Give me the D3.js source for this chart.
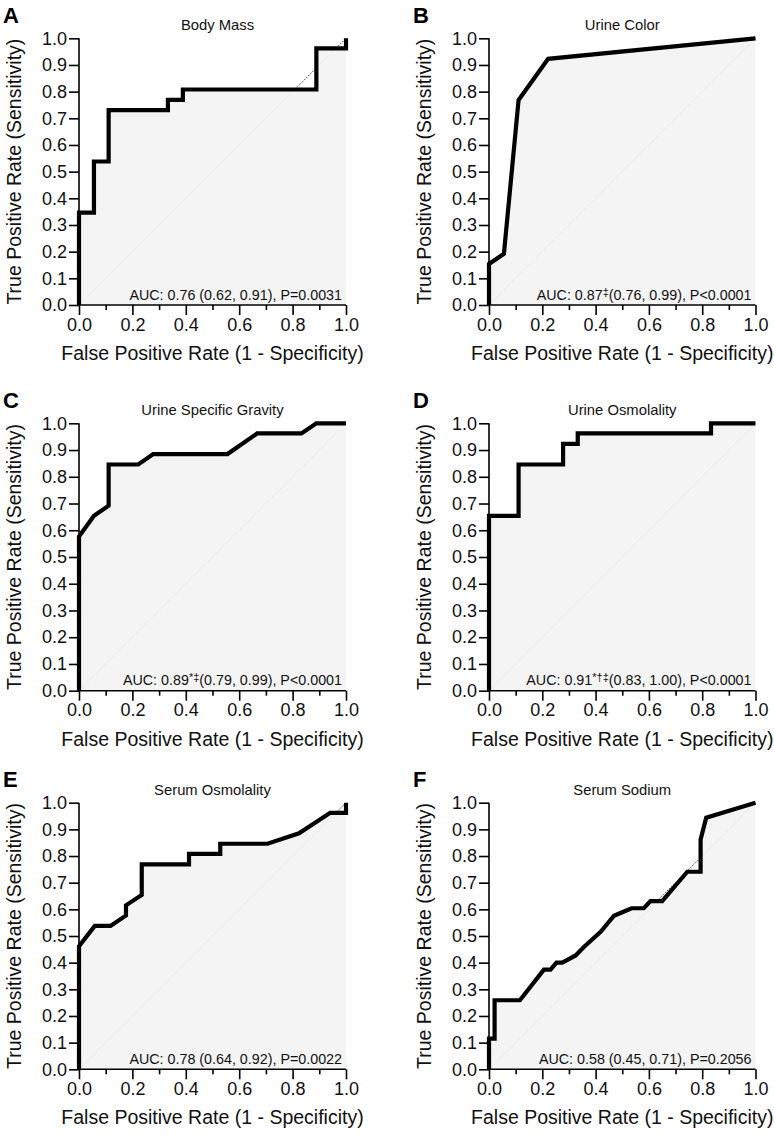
<!DOCTYPE html>
<html><head><meta charset="utf-8">
<script src="https://cdn.jsdelivr.net/npm/d3@7"></script>
<style>
body{margin:0;background:#fff;}
svg{display:block;font-family:"Liberation Sans",Arial,Helvetica,sans-serif;}
</style>
</head><body>
<svg id="chart" width="774" height="1134"></svg>
<script>
// ---------- data ----------
const panelLetters = ["A", "B", "C", "D", "E", "F"];
const panelTitles = ["Body Mass", "Urine Color", "Urine Specific Gravity", "Urine Osmolality", "Serum Osmolality", "Serum Sodium"];
const aucValues = ["0.76", "0.87", "0.89", "0.91", "0.78", "0.58"];
const aucMarks = ["", "\u2021", "*\u2021", "*\u2020\u2021", "", ""];
const aucCIs = ["(0.62, 0.91)", "(0.76, 0.99)", "(0.79, 0.99)", "(0.83, 1.00)", "(0.64, 0.92)", "(0.45, 0.71)"];
const pValues = ["P=0.0031", "P<0.0001", "P<0.0001", "P<0.0001", "P=0.0022", "P=0.2056"];

const xTickValues = [0, 0.1, 0.2, 0.3, 0.4, 0.5, 0.6, 0.7, 0.8, 0.9, 1.0];
const yTickValues = [0, 0.1, 0.2, 0.3, 0.4, 0.5, 0.6, 0.7, 0.8, 0.9, 1.0];
const xAxisTitle = "False Positive Rate (1 - Specificity)";
const yAxisTitle = "True Positive Rate (Sensitivity)";

// ROC curves: [false positive rate, true positive rate]
const rocBodyMass = [[0,0],[0,0.346],[0.056,0.346],[0.056,0.538],[0.111,0.538],[0.111,0.731],[0.333,0.731],[0.333,0.769],[0.389,0.769],[0.389,0.808],[0.889,0.808],[0.889,0.962],[1,0.962],[1,1]];
const rocUrineColor = [[0,0],[0,0.154],[0.056,0.192],[0.111,0.769],[0.222,0.923],[1,1]];
const rocUrineSG = [[0,0],[0,0.577],[0.056,0.654],[0.111,0.692],[0.111,0.846],[0.222,0.846],[0.278,0.885],[0.556,0.885],[0.667,0.962],[0.833,0.962],[0.889,1],[1,1]];
const rocUrineOsm = [[0,0],[0,0.654],[0.111,0.654],[0.111,0.846],[0.278,0.846],[0.278,0.923],[0.333,0.923],[0.333,0.962],[0.833,0.962],[0.833,1],[1,1]];
const rocSerumOsm = [[0,0],[0,0.462],[0.059,0.538],[0.118,0.538],[0.176,0.577],[0.176,0.615],[0.235,0.654],[0.235,0.769],[0.412,0.769],[0.412,0.808],[0.529,0.808],[0.529,0.846],[0.706,0.846],[0.824,0.885],[0.941,0.962],[1,0.962],[1,1]];
const rocSerumNa = [[0,0],[0,0.115],[0.021,0.115],[0.021,0.259],[0.116,0.259],[0.206,0.374],[0.231,0.374],[0.253,0.4],[0.275,0.4],[0.325,0.427],[0.355,0.458],[0.419,0.516],[0.469,0.576],[0.5,0.589],[0.535,0.604],[0.581,0.604],[0.606,0.631],[0.65,0.631],[0.744,0.741],[0.794,0.741],[0.794,0.862],[0.815,0.944],[1,1]];
const rocCurves = [rocBodyMass, rocUrineColor, rocUrineSG, rocUrineOsm, rocSerumOsm, rocSerumNa];

// ---------- layout ----------
const colLeft = [79, 489];
const colRight = [346, 755.5];
const rowTop = [38.3, 423.3, 802.7];
const rowBottom = [305, 690.7, 1069.3];
const FONT = '"Liberation Sans",Arial,Helvetica,sans-serif';

const svg = d3.select("#chart");
const fmt = d3.format(".1f");

rocCurves.forEach((data, i) => {
  const col = i % 2, row = Math.floor(i / 2);
  const L = colLeft[col], R = colRight[col], T = rowTop[row], B = rowBottom[row];
  const x = d3.scaleLinear().domain([0, 1]).range([L, R]);
  const y = d3.scaleLinear().domain([0, 1]).range([B, T]);
  const g = svg.append("g");

  // diagonal reference
  g.append("line")
    .attr("x1", x(0)).attr("y1", y(0)).attr("x2", x(1)).attr("y2", y(1))
    .attr("stroke", "#222").attr("stroke-width", 1).attr("stroke-dasharray", "1.5,1.5");

  // area under curve
  const area = d3.area().x(d => x(d[0])).y0(y(0)).y1(d => y(d[1]));
  g.append("path").datum(data).attr("d", area)
    .attr("fill", "#f3f3f3").attr("fill-opacity", 0.93);

  // axes
  const xAxis = d3.axisBottom(x).tickValues(xTickValues)
    .tickSize(10).tickPadding(3)
    .tickFormat(d => (Math.round(d * 10) % 2 === 0) ? fmt(d) : "");
  const gx = g.append("g").attr("transform", `translate(0,${B})`).call(xAxis);
  gx.selectAll(".tick line").attr("y2", d => (Math.round(d * 10) % 2 === 0) ? 10 : 5);

  const yAxis = d3.axisLeft(y).tickValues(yTickValues)
    .tickSize(10).tickPadding(2).tickFormat(fmt);
  const gy = g.append("g").attr("transform", `translate(${L},0)`).call(yAxis);

  [gx, gy].forEach(a => {
    a.select(".domain").attr("stroke", "#000").attr("stroke-width", 1.6);
    a.selectAll(".tick line").attr("stroke", "#000").attr("stroke-width", 1.6);
    a.selectAll(".tick text").attr("fill", "#111").style("font-size", "18px").style("font-family", FONT);
  });
  gx.select(".domain").attr("d", `M${L},0H${R}`);
  gy.select(".domain").attr("d", `M0,${B}V${T}`);

  // ROC curve
  const line = d3.line().x(d => x(d[0])).y(d => y(d[1]));
  g.append("path").datum(data).attr("d", line)
    .attr("fill", "none").attr("stroke", "#000").attr("stroke-width", 4.2)
    .attr("stroke-linejoin", "miter").attr("stroke-miterlimit", 4);

  // AUC text
  const t = g.append("text").attr("x", R - 4).attr("y", B - 5.5)
    .attr("text-anchor", "end").style("font-size", "14.3px").attr("fill", "#111");
  t.append("tspan").text("AUC: " + aucValues[i]);
  if (aucMarks[i]) {
    t.append("tspan").attr("dy", -4).style("font-size", "11px").text(aucMarks[i]);
    t.append("tspan").attr("dy", 4).text(aucCIs[i] + ", " + pValues[i]);
  } else {
    t.append("tspan").text(" " + aucCIs[i] + ", " + pValues[i]);
  }

  // panel title
  g.append("text").attr("x", (L + R) / 2 + (i === 0 ? 5 : 0)).attr("y", T - 8)
    .attr("text-anchor", "middle").style("font-size", "14.8px").attr("fill", "#111")
    .text(panelTitles[i]);

  // panel letter
  g.append("text").attr("x", L - 76).attr("y", T - 15.5)
    .style("font-size", "22px").style("font-weight", "bold").attr("fill", "#000")
    .text(panelLetters[i]);

  // axis titles
  g.append("text").attr("x", (L + R) / 2).attr("y", B + 55)
    .attr("text-anchor", "middle").style("font-size", "19.5px").attr("fill", "#111")
    .text(xAxisTitle);
  g.append("text")
    .attr("transform", `translate(${L - 58},${(T + B) / 2}) rotate(-90)`)
    .attr("text-anchor", "middle").style("font-size", "19.5px").attr("fill", "#111")
    .text(yAxisTitle);
});
</script>
</body></html>
